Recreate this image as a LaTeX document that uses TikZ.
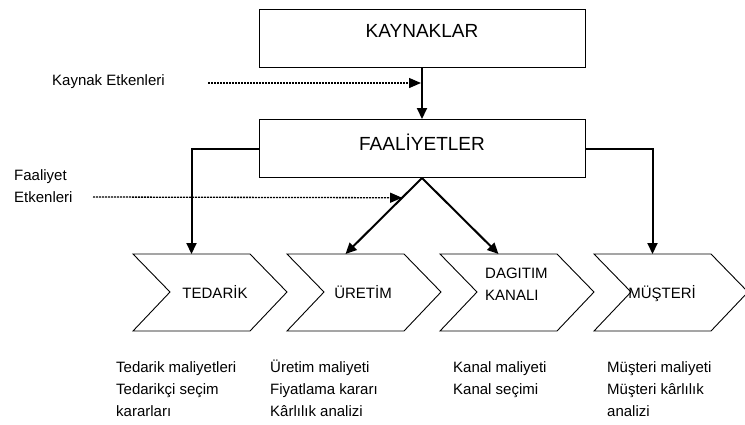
\documentclass[tikz,border=0pt]{standalone}
\usepackage{fontspec}
\setmainfont{Liberation Sans}
\usetikzlibrary{arrows.meta,calc}
\begin{document}
\begin{tikzpicture}[x=1pt,y=-1pt,
  box/.style={draw, line width=1pt, minimum width=326pt, minimum height=58pt, inner sep=0pt},
  boxtext/.style={font=\fontsize{19}{22}\selectfont, inner sep=0pt},
  lbl/.style={font=\fontsize{15}{22}\selectfont, inner sep=0pt},
  notes/.style={font=\fontsize{15}{22}\selectfont, align=left, anchor=base west, inner sep=0pt},
  flow/.style={line width=2pt, -{Triangle[length=11pt,width=10pt]}},
  factor/.style={line width=1.3pt, dash pattern=on 2pt off 1pt, -{Triangle[length=12pt,width=10pt]}},
  chev/.style={draw, line width=0.9pt, line join=miter}]
\useasboundingbox (0,0) rectangle (745,424);
\fill[white] (0,0) rectangle (745,424);

% boxes
\node[box] (kay) at (422,38) {};
\node[boxtext] (kayt) at (422,31) {KAYNAKLAR};
\node[box] (faal) at (422,148.5) {};
\node[boxtext] (faalt) at (422,142) {FAALİYETLER};

% chevrons
\foreach \L/\n in {133/c1, 287/c2, 440/c3, 594/c4}{
  \draw[chev] (\L,254) -- ++(117,0) -- ++(37,38) -- ++(-37,39) -- ++(-117,0) -- ++(37,-39) -- cycle;
  \coordinate (\n) at ({\L+58.5},254);
}
\node[lbl, anchor=base] (t1) at (215,298) {TEDARİK};
\node[lbl, anchor=base] (t2) at (363,298) {ÜRETİM};
\node[lbl, align=left, anchor=west] (t3) at (485,284) {DAGITIM\\KANALI};
\node[lbl, anchor=base] (t4) at (662,298) {MÜŞTERİ};

% side labels
\node[lbl, anchor=west] (ke) at (52,82) {Kaynak Etkenleri};
\node[lbl, align=left, anchor=west] (fe) at (14,186) {Faaliyet\\Etkenleri};

% connectors
\draw[flow] (kay.south) -- (kay.south |- faal.north);
\coordinate (ks) at (208,83);
\coordinate (ke2) at (421,83);
\draw[factor] (ks) -- (ke2);

\draw[flow] (faal.west) -| (c1);
\draw[flow] (faal.east) -| (c4);
\draw[flow] (faal.south) -- (c2);
\draw[flow] (faal.south) -- (c3);

\coordinate (fs) at (93,197);
\coordinate (fp) at ($(faal.south)!0.26!(c2)$);
\draw[factor] (fs) -- (fp);

% notes (anchor is the baseline of the last line)
\node[notes] (n1) at (116,416) {Tedarik maliyetleri\\Tedarikçi seçim\\kararları};
\node[notes] (n2) at (270,416) {Üretim maliyeti\\Fiyatlama kararı\\Kârlılık analizi};
\node[notes] (n3) at (453,394) {Kanal maliyeti\\Kanal seçimi};
\node[notes] (n4) at (607,416) {Müşteri maliyeti\\Müşteri kârlılık\\analizi};
\end{tikzpicture}
\end{document}
